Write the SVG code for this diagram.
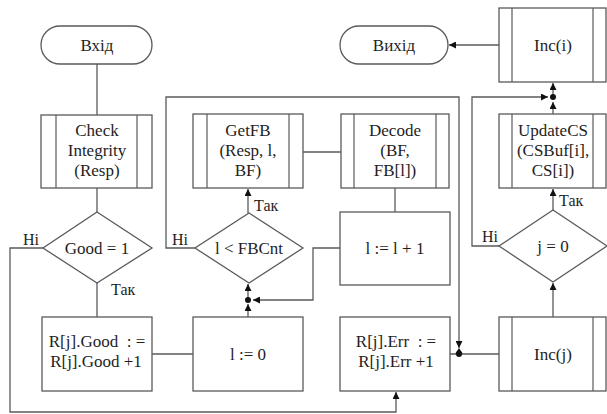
<svg xmlns="http://www.w3.org/2000/svg" width="607" height="414" viewBox="0 0 607 414">
  <style>
    .shape { fill: #ffffff; stroke: #5a5a5a; stroke-width: 1.3; }
    .inner { stroke: #5a5a5a; stroke-width: 1.2; }
    .wire { fill: none; stroke: #5a5a5a; stroke-width: 1.3; }
    .txt { font-size: 17px; text-anchor: middle; fill: #1e1e1e; white-space: pre; }
    .lbl { font-size: 16px; fill: #1e1e1e; }
    .dot { fill: #111111; }
  </style>
  <defs>
    <marker id="arrow" viewBox="0 0 10 10" refX="10" refY="5" markerWidth="8" markerHeight="7" markerUnits="userSpaceOnUse" orient="auto">
      <path d="M0,0 L10,5 L0,10 Z" fill="#111111"/>
    </marker>
  </defs>

  <rect width="607" height="414" fill="#ffffff"/>

  <g font-family="Liberation Serif, Times New Roman, serif">
  <!-- connectors -->
  <g id="connectors">
    <path class="wire" d="M97,64 V115"/>
    <path class="wire" d="M97,188 V212"/>
    <path class="wire" d="M97,283 V317"/>
    <path class="wire" d="M152,354 H193"/>
    <!-- Good = 1, no-branch to error counter -->
    <path class="wire" d="M43,248 H10 V412 H396 V392" marker-end="url(#arrow)"/>
    <!-- loop over l -->
    <path class="wire" d="M248,317 V304" marker-end="url(#arrow)"/>
    <path class="wire" d="M248,300 V284" marker-end="url(#arrow)"/>
    <path class="wire" d="M340,248 H313 V300 H253" marker-end="url(#arrow)"/>
    <path class="wire" d="M248,213 V189" marker-end="url(#arrow)"/>
    <path class="wire" d="M303,152 H341"/>
    <path class="wire" d="M395,188 V212"/>
    <!-- l < FBCnt exit -->
    <path class="wire" d="M195,248 H166 V97 H459 V348" marker-end="url(#arrow)"/>
    <path d="M455,354 L463,354 L459,348 Z" fill="#111111"/>
    <path class="wire" d="M450,354 H499"/>
    <!-- j loop -->
    <path class="wire" d="M553,317 V283" marker-end="url(#arrow)"/>
    <path class="wire" d="M553,210 V189" marker-end="url(#arrow)"/>
    <path class="wire" d="M499,246 H472 V97 H548" marker-end="url(#arrow)"/>
    <path class="wire" d="M553,114 V102" marker-end="url(#arrow)"/>
    <path class="wire" d="M553,97 V83" marker-end="url(#arrow)"/>
    <path class="wire" d="M499,45 H449" marker-end="url(#arrow)"/>
    <circle class="dot" cx="248" cy="300" r="3"/>
    <circle class="dot" cx="459" cy="354" r="3"/>
    <circle class="dot" cx="553" cy="97" r="3"/>
  </g>

  <!-- branch labels -->
  <g id="labels">
    <text class="lbl" x="23" y="245">Ні</text>
    <text class="lbl" x="111" y="295">Так</text>
    <text class="lbl" x="172" y="245">Ні</text>
    <text class="lbl" x="254" y="211">Так</text>
    <text class="lbl" x="482" y="242">Ні</text>
    <text class="lbl" x="559" y="206">Так</text>
  </g>

  <g id="start">
    <rect class="shape" x="41" y="26" width="111" height="38" rx="19"/>
    <text class="txt" x="97" y="51">Вхід</text>
  </g>

  <g id="exit">
    <rect class="shape" x="340" y="26" width="108" height="38" rx="19"/>
    <text class="txt" x="394" y="51">Вихід</text>
  </g>

  <g id="check-integrity">
    <rect class="shape" x="41" y="115" width="111" height="73"/>
    <line class="inner" x1="56" y1="115" x2="56" y2="188"/>
    <line class="inner" x1="137" y1="115" x2="137" y2="188"/>
    <text class="txt" x="97" y="136">Check</text>
    <text class="txt" x="97" y="156">Integrity</text>
    <text class="txt" x="97" y="176">(Resp)</text>
  </g>

  <g id="get-fb">
    <rect class="shape" x="193" y="114" width="110" height="74"/>
    <line class="inner" x1="207" y1="114" x2="207" y2="188"/>
    <line class="inner" x1="289" y1="114" x2="289" y2="188"/>
    <text class="txt" x="248" y="136">GetFB</text>
    <text class="txt" x="248" y="156">(Resp, l,</text>
    <text class="txt" x="248" y="176">BF)</text>
  </g>

  <g id="decode">
    <rect class="shape" x="341" y="114" width="108" height="74"/>
    <line class="inner" x1="354" y1="114" x2="354" y2="188"/>
    <line class="inner" x1="436" y1="114" x2="436" y2="188"/>
    <text class="txt" x="395" y="136">Decode</text>
    <text class="txt" x="395" y="156">(BF,</text>
    <text class="txt" x="395" y="176">FB[l])</text>
  </g>

  <g id="inc-i">
    <rect class="shape" x="499" y="8" width="107" height="74"/>
    <line class="inner" x1="512" y1="8" x2="512" y2="82"/>
    <line class="inner" x1="593" y1="8" x2="593" y2="82"/>
    <text class="txt" x="553" y="51">Inc(i)</text>
  </g>

  <g id="update-cs">
    <rect class="shape" x="499" y="114" width="107" height="74"/>
    <line class="inner" x1="512" y1="114" x2="512" y2="188"/>
    <line class="inner" x1="593" y1="114" x2="593" y2="188"/>
    <text class="txt" x="553" y="136">UpdateCS</text>
    <text class="txt" x="553" y="156">(CSBuf[i],</text>
    <text class="txt" x="553" y="176">CS[i])</text>
  </g>

  <g id="good-check">
    <polygon class="shape" points="97,212 152,248 97,283 43,248"/>
    <text class="txt" x="97" y="254">Good = 1</text>
  </g>

  <g id="l-check">
    <polygon class="shape" points="249,213 303,248 249,283 195,248"/>
    <text class="txt" x="249" y="254">l &lt; FBCnt</text>
  </g>

  <g id="l-inc">
    <rect class="shape" x="340" y="212" width="110" height="73"/>
    <text class="txt" x="395" y="254">l := l + 1</text>
  </g>

  <g id="j-check">
    <polygon class="shape" points="553,210 607,246 553,282 499,246"/>
    <text class="txt" x="553" y="252">j = 0</text>
  </g>

  <g id="good-inc">
    <rect class="shape" x="42" y="317" width="110" height="74"/>
    <text class="txt" x="97" y="347">R[j].Good  : =</text>
    <text class="txt" x="96" y="367">R[j].Good +1</text>
  </g>

  <g id="l-reset">
    <rect class="shape" x="193" y="317" width="110" height="74"/>
    <text class="txt" x="248" y="360">l := 0</text>
  </g>

  <g id="err-inc">
    <rect class="shape" x="340" y="317" width="110" height="74"/>
    <text class="txt" x="396" y="347">R[j].Err  : =</text>
    <text class="txt" x="396" y="367">R[j].Err +1</text>
  </g>

  <g id="inc-j">
    <rect class="shape" x="499" y="317" width="107" height="74"/>
    <line class="inner" x1="512" y1="317" x2="512" y2="391"/>
    <line class="inner" x1="593" y1="317" x2="593" y2="391"/>
    <text class="txt" x="553" y="360">Inc(j)</text>
  </g>
  </g>
</svg>
